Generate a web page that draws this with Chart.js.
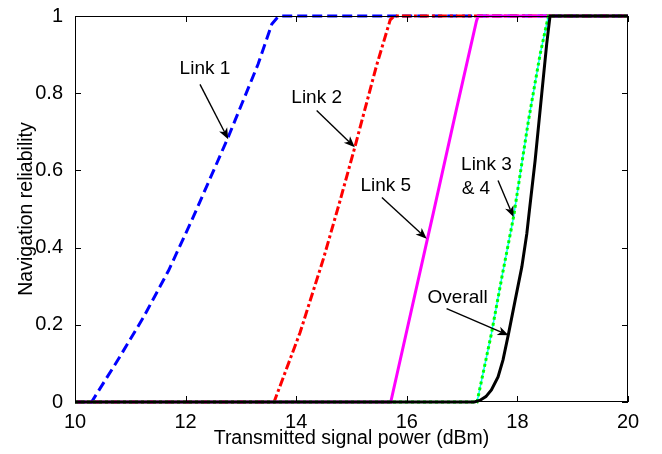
<!DOCTYPE html>
<html lang="en">
<head>
    <meta charset="UTF-8">
    <title>Navigation reliability vs transmitted power</title>
    <script src="https://cdn.jsdelivr.net/npm/chart.js"></script>
    <style>
        body { margin: 0; background: #fff; }
    </style>
</head>
<body>
    <canvas id="relChart" width="662" height="454"></canvas>

    <script>
        // curves (x in dBm, y = reliability)
        const link1X = [10, 10.3, 10.78, 11.24, 11.69, 12.11, 12.77, 13.31, 13.56, 13.66, 13.74, 20];
        const link1Y = [0, 0, 0.11, 0.22, 0.34, 0.47, 0.686, 0.875, 0.979, 0.996, 1, 1];

        const link2X = [10, 13.6, 14.07, 14.49, 14.79, 15.06, 15.45, 15.7, 15.77, 20];
        const link2Y = [0, 0, 0.18, 0.37, 0.52, 0.66, 0.87, 0.99, 1, 1];

        const link5X = [10, 15.71, 16.36, 16.48, 16.9, 17.26, 17.29, 20];
        const link5Y = [0, 0, 0.414, 0.49, 0.76, 0.987, 1, 1];

        const link3X = [10, 17.27, 17.53, 17.72, 17.93, 18.2, 18.41, 18.56, 20];
        const link3Y = [0, 0, 0.177, 0.324, 0.479, 0.729, 0.9, 1, 1];

        const link4X = [10, 17.27, 17.53, 17.72, 17.93, 18.2, 18.41, 18.56, 20];
        const link4Y = [0, 0, 0.177, 0.324, 0.479, 0.729, 0.9, 1, 1];

        const overallX = [10, 17.22, 17.32, 17.43, 17.53, 17.65, 17.74, 17.84, 17.96, 18.08, 18.17, 18.22, 18.32, 18.44, 18.53, 18.59, 20];
        const overallY = [0, 0, 0.004, 0.014, 0.031, 0.065, 0.109, 0.177, 0.264, 0.35, 0.436, 0.5, 0.625, 0.798, 0.928, 1, 1];

        // annotation labels and arrows (data coords)
        const noteText = ["Link 1", "Link 2", "Link 5", "Link 3", "& 4", "Overall"];
        const noteX    = [12.35, 14.37, 15.62, 17.44, 17.25, 16.92];
        const noteY    = [0.863, 0.787, 0.561, 0.615, 0.553, 0.27];
        const arrowFrom = [[12.26, 0.823], [14.37, 0.755], [15.55, 0.53], [17.65, 0.574], [16.72, 0.242]];
        const arrowTo   = [[12.77, 0.681], [15.06, 0.66], [16.36, 0.423], [17.93, 0.479], [17.84, 0.173]];

        const FONT = "'Liberation Sans', Arial, sans-serif";

        function pts(xs, ys) {
            return xs.map((x, i) => ({ x: x, y: ys[i] }));
        }

        function drawArrow(ctx, x1, y1, x2, y2) {
            const ang = Math.atan2(y2 - y1, x2 - x1);
            const len = 11, half = 4.5, back = 8;
            ctx.beginPath();
            ctx.moveTo(x1, y1);
            ctx.lineTo(x2 - back * Math.cos(ang), y2 - back * Math.sin(ang));
            ctx.stroke();
            const bx = x2 - len * Math.cos(ang), by = y2 - len * Math.sin(ang);
            const nx = -Math.sin(ang), ny = Math.cos(ang);
            ctx.beginPath();
            ctx.moveTo(x2, y2);
            ctx.lineTo(bx + nx * half, by + ny * half);
            ctx.lineTo(x2 - back * Math.cos(ang), y2 - back * Math.sin(ang));
            ctx.lineTo(bx - nx * half, by - ny * half);
            ctx.closePath();
            ctx.fill();
        }

        // box, inward ticks and the text callouts
        const extras = {
            id: "extras",
            afterDatasetsDraw(chart) {
                const ctx = chart.ctx;
                const xs = chart.scales.x, ys = chart.scales.y;
                const a = chart.chartArea;
                const tl = 6;
                ctx.save();
                ctx.strokeStyle = "#000";
                ctx.fillStyle = "#000";
                ctx.lineWidth = 1;
                ctx.strokeRect(a.left + 0.5, a.top + 0.5, a.right - a.left - 1, a.bottom - a.top - 1);
                ctx.beginPath();
                xs.ticks.forEach(t => {
                    const px = Math.round(xs.getPixelForValue(t.value)) + 0.5;
                    ctx.moveTo(px, a.bottom); ctx.lineTo(px, a.bottom - tl);
                    ctx.moveTo(px, a.top); ctx.lineTo(px, a.top + tl);
                });
                ys.ticks.forEach(t => {
                    const py = Math.round(ys.getPixelForValue(t.value)) + 0.5;
                    ctx.moveTo(a.left, py); ctx.lineTo(a.left + tl, py);
                    ctx.moveTo(a.right, py); ctx.lineTo(a.right - tl, py);
                });
                ctx.stroke();

                ctx.font = "19px " + FONT;
                ctx.textAlign = "center";
                ctx.textBaseline = "middle";
                noteText.forEach((txt, i) => {
                    ctx.fillText(txt, xs.getPixelForValue(noteX[i]), ys.getPixelForValue(noteY[i]));
                });
                ctx.lineWidth = 1.4;
                arrowFrom.forEach((f, i) => {
                    const t = arrowTo[i];
                    drawArrow(ctx,
                        xs.getPixelForValue(f[0]), ys.getPixelForValue(f[1]),
                        xs.getPixelForValue(t[0]), ys.getPixelForValue(t[1]));
                });
                ctx.restore();
            }
        };

        const common = { showLine: true, pointRadius: 0, fill: false, clip: 6, tension: 0 };

        new Chart(document.getElementById("relChart").getContext("2d"), {
            type: "scatter",
            data: {
                datasets: [
                    Object.assign({ label: "Link 1", data: pts(link1X, link1Y), borderColor: "#0000ff", borderWidth: 3, borderDash: [10, 5], order: 5 }, common),
                    Object.assign({ label: "Link 2", data: pts(link2X, link2Y), borderColor: "#ff0000", borderWidth: 3, borderDash: [9, 3, 3, 3], order: 4 }, common),
                    Object.assign({ label: "Link 5", data: pts(link5X, link5Y), borderColor: "#ff00ff", borderWidth: 3, order: 3 }, common),
                    Object.assign({ label: "Link 3", data: pts(link3X, link3Y), borderColor: "#00ffff", borderWidth: 1.5, order: 2 }, common),
                    Object.assign({ label: "Link 4", data: pts(link4X, link4Y), borderColor: "#00ff00", borderWidth: 3, borderDash: [3, 3], order: 1 }, common),
                    Object.assign({ label: "Overall", data: pts(overallX, overallY), borderColor: "#000000", borderWidth: 3, order: 0 }, common)
                ]
            },
            options: {
                responsive: false,
                animation: false,
                layout: { padding: { top: 15, right: 34, left: 0, bottom: 0 } },
                plugins: { legend: { display: false }, tooltip: { enabled: false } },
                scales: {
                    x: {
                        type: "linear",
                        min: 10, max: 20,
                        grid: { display: false },
                        border: { display: false },
                        ticks: { stepSize: 2, color: "#000", padding: 0, font: { family: FONT, size: 20 } },
                        title: { display: true, text: "Transmitted signal power (dBm)", color: "#000", font: { family: FONT, size: 19.5 }, padding: { top: 0, bottom: 4 } },
                        afterFit: s => { s.height = 52; }
                    },
                    y: {
                        min: 0, max: 1,
                        grid: { display: false },
                        border: { display: false },
                        ticks: {
                            stepSize: 0.2, color: "#000", padding: 4, font: { family: FONT, size: 20 },
                            callback: v => String(Math.round(v * 10) / 10)
                        },
                        title: { display: true, text: "Navigation reliability", color: "#000", font: { family: FONT, size: 19.5 }, padding: { top: 15, bottom: 0 } },
                        afterFit: s => { s.width = 75; }
                    }
                }
            },
            plugins: [extras]
        });
    </script>
</body>
</html>
